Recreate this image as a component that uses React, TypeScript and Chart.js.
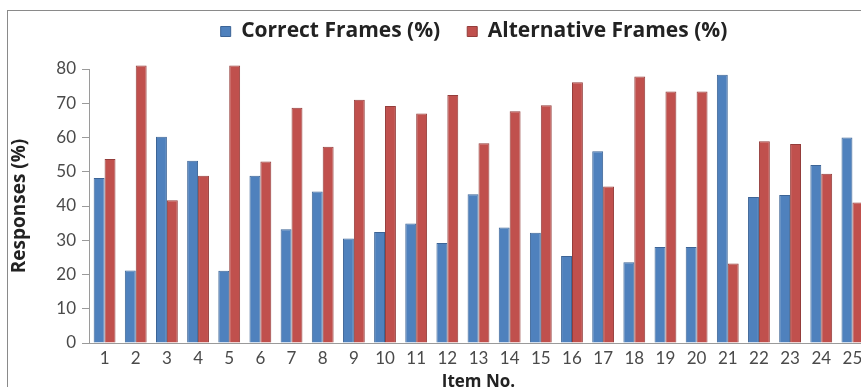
import React, { useEffect, useRef } from "react";
import { Chart, registerables } from "chart.js";

Chart.register(...registerables);

const categories = ["1","2","3","4","5","6","7","8","9","10","11","12","13","14","15","16","17","18","19","20","21","22","23","24","25"];
const correctFrames = [48.2, 21.2, 60.2, 53.2, 21.1, 48.8, 33.2, 44.2, 30.5, 32.4, 34.9, 29.2, 43.4, 33.7, 32.2, 25.4, 56, 23.6, 28, 28, 78.3, 42.6, 43.2, 52, 60];
const alternativeFrames = [53.7, 81, 41.7, 48.8, 81, 53, 68.7, 57.3, 71, 69.2, 67, 72.4, 58.3, 67.7, 69.4, 76.1, 45.7, 77.8, 73.4, 73.4, 23.2, 58.9, 58.1, 49.4, 41];
const yTicks = [0, 10, 20, 30, 40, 50, 60, 70, 80];
const seriesNames = ["Correct Frames (%)", "Alternative Frames (%)"];

const legendShift = {
  id: "legendShift",
  afterLayout(chart: any) {
    const lg = chart.legend;
    if (lg) {
      const dx = 466 - (lg.left + lg.right) / 2;
      lg.left += dx;
      lg.right += dx;
      lg.top -= 17;
      lg.bottom -= 17;
    }
  },
};

export default function App() {
  const ref = useRef<HTMLCanvasElement | null>(null);
  useEffect(() => {
    if (!ref.current) return;
    const chart = new Chart(ref.current, {
      type: "bar",
      data: {
        labels: categories,
        datasets: [
          {
            label: seriesNames[0],
            data: correctFrames,
            backgroundColor: "#4F81BD",
            borderColor: "#3C6496",
            borderWidth: 1,
            categoryPercentage: 0.7,
            barPercentage: 1.0,
            clip: false,
          },
          {
            label: seriesNames[1],
            data: alternativeFrames,
            backgroundColor: "#C0504D",
            borderColor: "#943D3B",
            borderWidth: 1,
            categoryPercentage: 0.7,
            barPercentage: 1.0,
            clip: false,
          },
        ],
      },
      plugins: [legendShift],
      options: {
        responsive: false,
        animation: false,
        layout: { padding: { left: 0, right: 20, top: 0, bottom: 0 } },
        plugins: {
          tooltip: { enabled: false },
          legend: {
            position: "top",
            labels: {
              boxWidth: 10,
              boxHeight: 10,
              padding: 27,
              color: "#222",
              font: { family: "Open Sans", size: 21, weight: "bold" },
            },
          },
        },
        scales: {
          x: {
            grid: { display: false, drawOnChartArea: false, drawTicks: false },
            border: { display: true, color: "#9a9a9a", width: 1 },
            ticks: { color: "#4a4a4a", font: { family: "Lato", size: 17 }, padding: 5, maxRotation: 0, autoSkip: false },
            title: {
              display: true,
              text: "Item No.",
              color: "#222",
              font: { family: "Open Sans", size: 17, weight: "bold" },
              padding: { top: 0, bottom: 0 },
            },
            afterFit: (s: any) => { s.height = 49; },
          },
          y: {
            min: 0,
            max: 80,
            afterBuildTicks: (s: any) => { s.ticks = yTicks.map((v) => ({ value: v })); },
            grid: { drawOnChartArea: false, drawTicks: true, tickLength: 7, color: "#9a9a9a" },
            border: { display: true, color: "#9a9a9a", width: 1 },
            ticks: { color: "#4a4a4a", font: { family: "Lato", size: 17 }, padding: 6 },
            title: {
              display: true,
              text: "Responses (%)",
              color: "#222",
              font: { family: "Open Sans", size: 19, weight: "bold" },
              padding: { top: 0, bottom: 0 },
            },
            afterFit: (s: any) => { s.width = 81; },
          },
        },
      },
    });
    return () => chart.destroy();
  }, []);

  return (
    <div style={{ position: "fixed", left: 0, top: 0, width: 861, height: 387, overflow: "hidden", background: "#fff" }}>
      <div style={{ position: "absolute", left: 7, top: 10, width: 1000, height: 500, borderLeft: "1px solid #8a8a8a", borderTop: "1px solid #8a8a8a" }}>
        <canvas ref={ref} width={880} height={381} style={{ position: "absolute", left: 0, top: 0, width: 880, height: 381 }} />
      </div>
    </div>
  );
}
